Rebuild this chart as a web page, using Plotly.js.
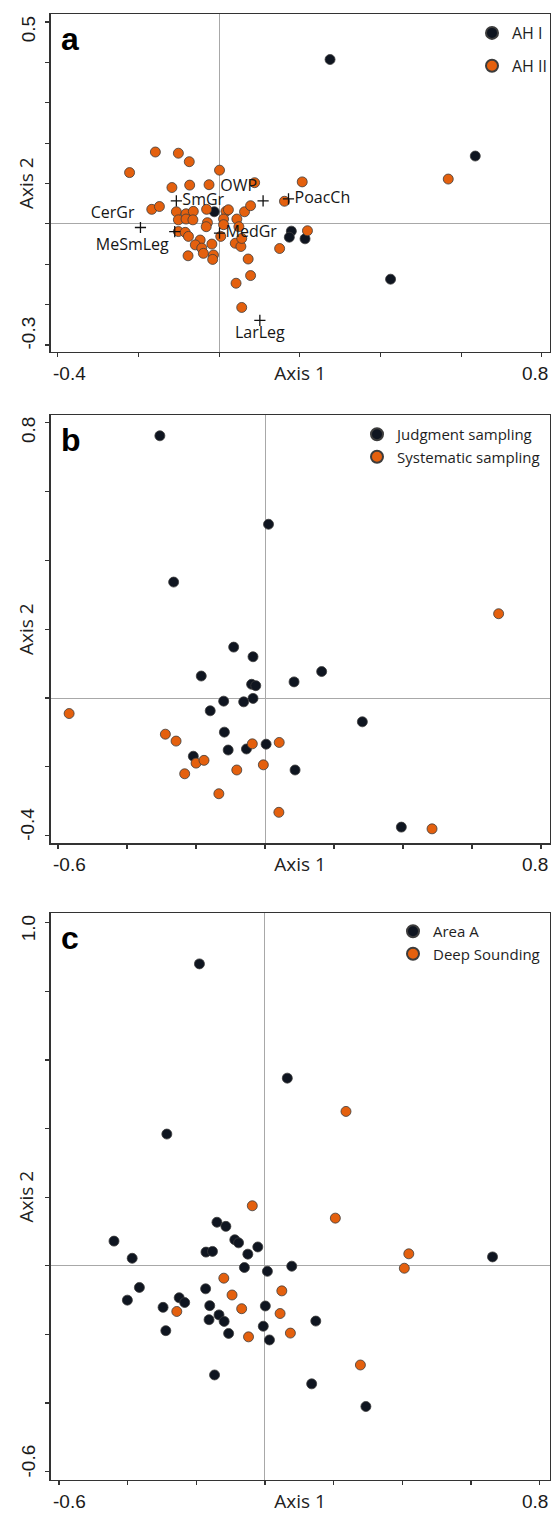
<!DOCTYPE html>
<html>
<head>
<meta charset="utf-8">
<script src="https://cdn.plot.ly/plotly-3.0.1.min.js"></script>
<style>html,body{margin:0;padding:0;background:#fff;}</style>
</head>
<body>
<div id="chart" style="width:555px;height:1514px;"></div>
<script>
// ---------- Panel a: AH I vs AH II ----------
const aAH1X = [0.275, 0.635, -0.012, 0.179, 0.174, 0.213, 0.425];
const aAH1Y = [0.407, 0.168, 0.030, -0.018, -0.033, -0.037, -0.137];
const aAH2X = [-0.158, -0.101, -0.074, -0.222, 0.001, -0.117, -0.073, -0.025, 0.088, 0.206,
               -0.167, -0.148, -0.106, -0.082, -0.064, -0.031, -0.101, -0.082, -0.065, 0.017,
               0.023, 0.011, 0.044, 0.063, 0.078, 0.162, 0.219, -0.029, -0.032, -0.101,
               -0.084, -0.076, -0.047, -0.059, -0.043, -0.039, -0.018, -0.014, -0.016, -0.077,
               0.004, 0.040, 0.054, 0.056, 0.049, 0.072, 0.078, 0.042, 0.056, 0.150,
               0.568, 0.011];
const aAH2Y = [0.178, 0.175, 0.154, 0.127, 0.133, 0.090, 0.096, 0.097, 0.102, 0.104,
               0.036, 0.043, 0.030, 0.025, 0.031, 0.036, 0.010, 0.012, 0.010, 0.031,
               0.035, 0.012, 0.012, 0.030, 0.045, 0.056, -0.017, 0.003, -0.007, -0.019,
               -0.021, -0.031, -0.040, -0.052, -0.060, -0.073, -0.050, -0.077, -0.088, -0.079,
               -0.031, -0.048, -0.056, -0.036, -0.007, -0.087, -0.128, -0.147, -0.207, -0.061,
               0.111, -0.002];
// variable scores shown as crosses
const aVarNames = ['SmGr', 'OWP', 'PoacCh', 'CerGr', 'MeSmLeg', 'MedGr', 'LarLeg'];
const aVarX = [-0.106, 0.109, 0.172, -0.195, -0.110, 0.001, 0.101];
const aVarY = [0.057, 0.057, 0.062, -0.009, -0.019, -0.023, -0.239];
const aVarPos = ['middle right', 'top left', 'middle right', 'top left', 'bottom left', 'middle right', 'bottom center'];

// ---------- Panel b: judgment vs systematic sampling ----------
const bJudgX = [-0.305, 0.010, -0.265, -0.091, -0.035, -0.185, 0.164, 0.084, -0.039, -0.027,
                -0.035, -0.062, -0.120, -0.159, 0.282, -0.118, -0.107, -0.054, 0.003, -0.208,
                0.087, 0.395];
const bJudgY = [0.762, 0.505, 0.337, 0.148, 0.120, 0.064, 0.077, 0.047, 0.040, 0.036,
                -0.001, -0.011, -0.009, -0.037, -0.069, -0.099, -0.151, -0.148, -0.134, -0.169,
                -0.209, -0.375];
const bSystX = [-0.568, -0.289, -0.258, -0.037, 0.041, -0.200, -0.177, -0.233, -0.082, -0.005,
                -0.134, 0.040, 0.484, 0.677];
const bSystY = [-0.045, -0.105, -0.125, -0.133, -0.129, -0.189, -0.181, -0.220, -0.209, -0.194,
                -0.278, -0.332, -0.380, 0.245];

// ---------- Panel c: Area A vs Deep Sounding ----------
const cAreaX = [-0.191, 0.065, -0.286, -0.440, -0.387, -0.140, -0.114, -0.088, -0.077, -0.021,
                -0.050, -0.172, -0.153, -0.060, 0.007, 0.078, 0.663, -0.366, -0.401, -0.173,
                -0.250, -0.234, -0.297, -0.161, 0.001, -0.134, -0.163, -0.119, -0.289, -0.106,
                -0.005, 0.013, 0.148, -0.147, 0.136, 0.294];
const cAreaY = [0.880, 0.547, 0.384, 0.072, 0.022, 0.127, 0.115, 0.076, 0.067, 0.055,
                0.034, 0.040, 0.042, -0.005, -0.016, -0.001, 0.026, -0.063, -0.100, -0.067,
                -0.093, -0.107, -0.121, -0.116, -0.117, -0.143, -0.157, -0.162, -0.189, -0.197,
                -0.176, -0.216, -0.161, -0.318, -0.344, -0.410];
const cDeepX = [0.236, -0.037, 0.205, 0.419, 0.406, -0.120, -0.096, -0.068, 0.049, 0.044,
                -0.257, -0.048, 0.074, 0.278];
const cDeepY = [0.450, 0.175, 0.139, 0.035, -0.007, -0.036, -0.085, -0.125, -0.073, -0.139,
                -0.133, -0.207, -0.196, -0.289];

// end tick labels of each panel
const aXTicks = ['-0.4', '0.8'], aYTicks = ['0.5', '-0.3'];
const bXTicks = ['-0.6', '0.8'], bYTicks = ['0.8', '-0.4'];
const cXTicks = ['-0.6', '0.8'], cYTicks = ['1.0', '-0.6'];
const panelLetters = ['a', 'b', 'c'];

const DARK = '#0f1520';
const ORANGE = '#e4600e';
const EDGE = '#3c3c3c';
const W = 555, H = 1514;

function pts(x, y, color, name, xa, ya, legend, group) {
  return {
    type: 'scatter', mode: 'markers', x: x, y: y, name: name,
    xaxis: xa, yaxis: ya, legend: legend, legendgroup: group,
    marker: {size: 10, color: color, line: {color: EDGE, width: 0.8}},
    hoverinfo: 'x+y'
  };
}

const traces = [
  pts(aAH1X, aAH1Y, DARK, 'AH I', 'x', 'y', 'legend', 'a1'),
  pts(aAH2X, aAH2Y, ORANGE, 'AH II', 'x', 'y', 'legend', 'a2'),
  {
    type: 'scatter', mode: 'markers+text', x: aVarX, y: aVarY, text: aVarNames,
    textposition: aVarPos, xaxis: 'x', yaxis: 'y', showlegend: false,
    marker: {symbol: 'cross-thin', size: 8, line: {color: '#111', width: 1.3}},
    textfont: {family: 'Open Sans, sans-serif', size: 16, color: '#161616'},
    hoverinfo: 'text'
  },
  pts(bJudgX, bJudgY, DARK, 'Judgment sampling', 'x2', 'y2', 'legend2', 'b1'),
  pts(bSystX, bSystY, ORANGE, 'Systematic sampling', 'x2', 'y2', 'legend2', 'b2'),
  pts(cAreaX, cAreaY, DARK, 'Area A', 'x3', 'y3', 'legend3', 'c1'),
  pts(cDeepX, cDeepY, ORANGE, 'Deep Sounding', 'x3', 'y3', 'legend3', 'c2')
];

const titleFont = {family: 'Open Sans, sans-serif', size: 19, color: '#222'};
const tickFont = {family: 'Liberation Sans, Arial, sans-serif', size: 19, color: '#1a1a1a'};

function xAxis(range, anchor) {
  return {
    domain: [50.5 / W, 549.5 / W], range: range, anchor: anchor,
    tick0: 0, dtick: 0.2, ticks: 'outside', ticklen: 4, tickwidth: 1.2, tickcolor: '#333',
    showticklabels: false, showgrid: false,
    showline: true, mirror: true, linecolor: '#333', linewidth: 1.4,
    zeroline: true, zerolinecolor: '#a8a8a8', zerolinewidth: 1,
    title: {text: 'Axis 1', font: titleFont, standoff: 10}
  };
}
function yAxis(range, dtick, top, bottom, anchor) {
  return {
    domain: [1 - bottom / H, 1 - top / H], range: range, anchor: anchor,
    tick0: 0, dtick: dtick, ticks: 'outside', ticklen: 4, tickwidth: 1.2, tickcolor: '#333',
    showticklabels: false, showgrid: false,
    showline: true, mirror: true, linecolor: '#333', linewidth: 1.4,
    zeroline: true, zerolinecolor: '#a8a8a8', zerolinewidth: 1,
    title: {text: 'Axis 2', font: titleFont, standoff: 6}
  };
}

// end labels sit flush with the frame corners
function endLabels(xs, ys, xa, ya) {
  const xd = xa + ' domain', yd = ya + ' domain';
  return [
    {xref: xd, yref: yd, x: 0, y: 0, xanchor: 'left', yanchor: 'top', yshift: -9, text: xs[0], showarrow: false, font: tickFont},
    {xref: xd, yref: yd, x: 1, y: 0, xanchor: 'right', yanchor: 'top', yshift: -9, text: xs[1], showarrow: false, font: tickFont},
    {xref: xd, yref: yd, x: 0, y: 1, xanchor: 'right', yanchor: 'top', xshift: -10, text: ys[0], textangle: -90, showarrow: false, font: tickFont},
    {xref: xd, yref: yd, x: 0, y: 0, xanchor: 'right', yanchor: 'bottom', xshift: -10, text: ys[1], textangle: -90, showarrow: false, font: tickFont}
  ];
}
function letter(t, xa, ya) {
  return {xref: xa + ' domain', yref: ya + ' domain', x: 0, y: 1, xanchor: 'left', yanchor: 'top',
          xshift: 8, yshift: -5, text: '<b>' + t + '</b>', showarrow: false,
          font: {family: 'Liberation Sans, Arial, sans-serif', size: 32, color: '#000'}};
}

const legendFont = {family: 'Open Sans, sans-serif', size: 15, color: '#1e1e1e'};
function legendAt(xpx, ypx, gap, size) {
  return {
    x: xpx / W, y: 1 - ypx / H, xanchor: 'left', yanchor: 'top',
    bgcolor: 'rgba(0,0,0,0)', borderwidth: 0, font: Object.assign({}, legendFont, {size: size}),
    traceorder: 'grouped', tracegroupgap: gap, itemsizing: 'constant'
  };
}

const layout = {
  width: W, height: H,
  margin: {l: 0, r: 0, t: 0, b: 0},
  paper_bgcolor: '#fff', plot_bgcolor: '#fff',
  font: {family: 'Open Sans, sans-serif'},
  xaxis: xAxis([-0.418, 0.819], 'y'),
  yaxis: yAxis([-0.3173, 0.519], 0.1, 14.3, 352, 'x'),
  xaxis2: xAxis([-0.622, 0.8245], 'y2'),
  yaxis2: yAxis([-0.422, 0.8224], 0.2, 415, 843.3, 'x2'),
  xaxis3: xAxis([-0.625, 0.829], 'y3'),
  yaxis3: yAxis([-0.6242, 1.0274], 0.2, 913.3, 1480, 'x3'),
  legend: legendAt(472, 16, 9, 16),
  legend2: legendAt(357, 418, 0, 15),
  legend3: legendAt(393, 915, 0, 15),
  annotations: [].concat(
    endLabels(aXTicks, aYTicks, 'x', 'y'),
    endLabels(bXTicks, bYTicks, 'x2', 'y2'),
    endLabels(cXTicks, cYTicks, 'x3', 'y3'),
    [letter(panelLetters[0], 'x', 'y'), letter(panelLetters[1], 'x2', 'y2'), letter(panelLetters[2], 'x3', 'y3')]
  ),
  showlegend: true
};

Plotly.newPlot('chart', traces, layout, {staticPlot: true, displayModeBar: false});
</script>
</body>
</html>
